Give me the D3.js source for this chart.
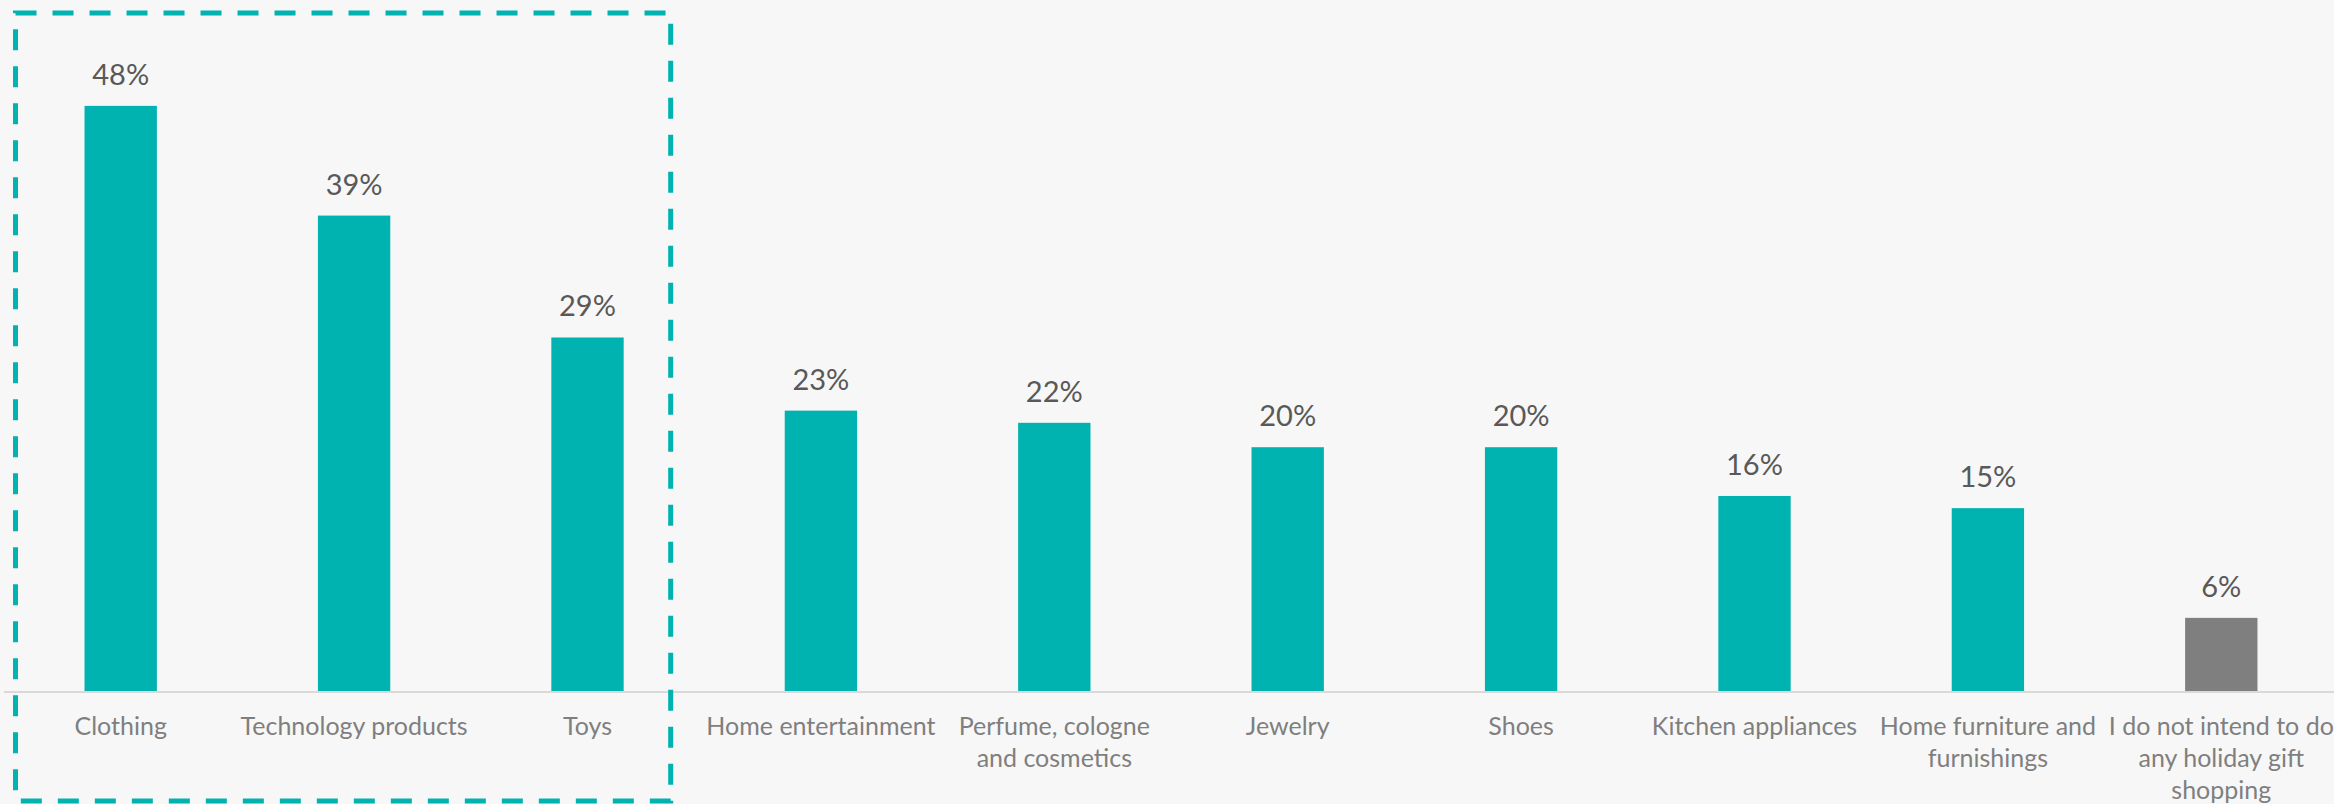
<!DOCTYPE html>
<html>
<head>
<meta charset="utf-8">
<script src="https://cdn.jsdelivr.net/npm/d3@7"></script>
<style>
  html, body { margin: 0; padding: 0; background: #f7f7f7; }
  svg { display: block; }
</style>
</head>
<body>
<script>
const categories = ['Clothing', 'Technology products', 'Toys', 'Home entertainment', 'Perfume, cologne\nand cosmetics', 'Jewelry', 'Shoes', 'Kitchen appliances', 'Home furniture and\nfurnishings', 'I do not intend to do\nany holiday gift\nshopping']
const values = [48, 39, 29, 23, 22, 20, 20, 16, 15, 6]
const highlighted = ['Clothing', 'Technology products', 'Toys']
const noShopping = 'I do not intend to do\nany holiday gift\nshopping'

let width = 2334
let height = 804
let baseline = 691
let font = 'Lato, "Open Sans", sans-serif'

const svg = d3.select('body')
  .append('svg')
  .attr('width', width)
  .attr('height', height)

svg.append('rect')
  .attr('width', width)
  .attr('height', height)
  .attr('fill', '#f7f7f7')

const x = d3.scaleBand()
  .domain(categories)
  .range([4, 2338])
  .paddingInner(0.69)
  .paddingOuter(0.345)

const y = d3.scaleLinear()
  .domain([0, 50])
  .range([baseline, baseline - 50 * 12.19])

const data = categories.map((c, i) => ({ cat: c, val: values[i] }))

// bars
svg.append('g')
  .selectAll('rect')
  .data(data)
  .enter().append('rect')
  .attr('x', d => x(d.cat))
  .attr('y', d => y(d.val))
  .attr('width', x.bandwidth())
  .attr('height', d => y(0) - y(d.val))
  .attr('fill', d => d.cat == noShopping ? '#7f7f7f' : '#00b2b0')

// axis line
svg.append('line')
  .attr('x1', x.range()[0])
  .attr('x2', x.range()[1])
  .attr('y1', y(0) + 1)
  .attr('y2', y(0) + 1)
  .attr('stroke', '#d9d9d9')
  .attr('stroke-width', 2)

// value labels
svg.append('g')
  .selectAll('text')
  .data(data)
  .enter().append('text')
  .attr('x', d => x(d.cat) + x.bandwidth() / 2)
  .attr('y', d => y(d.val) - 21)
  .attr('text-anchor', 'middle')
  .attr('font-family', font)
  .attr('font-size', '29px')
  .attr('fill', '#595959')
  .text(d => d.val + '%')

// category labels
const labels = svg.append('g')
  .selectAll('text')
  .data(data)
  .enter().append('text')
  .attr('x', d => x(d.cat) + x.bandwidth() / 2)
  .attr('y', 735)
  .attr('text-anchor', 'middle')
  .attr('font-family', font)
  .attr('font-size', '25px')
  .attr('fill', '#7f7f7f')

labels.selectAll('tspan')
  .data(d => d.cat.split('\n').map(l => ({ line: l, x: x(d.cat) + x.bandwidth() / 2 })))
  .enter().append('tspan')
  .attr('x', d => d.x)
  .attr('dy', (d, i) => i == 0 ? 0 : 32)
  .text(d => d.line)

// dashed highlight box round the top three
let boxLeft = x(highlighted[0]) - 69
let boxRight = x(highlighted[highlighted.length - 1]) + x.bandwidth() + 47
svg.append('rect')
  .attr('x', boxLeft)
  .attr('y', 13)
  .attr('width', boxRight - boxLeft)
  .attr('height', 788)
  .attr('fill', 'none')
  .attr('stroke', '#00b2b0')
  .attr('stroke-width', 5)
  .attr('stroke-dasharray', '21,16')
</script>
</body>
</html>
